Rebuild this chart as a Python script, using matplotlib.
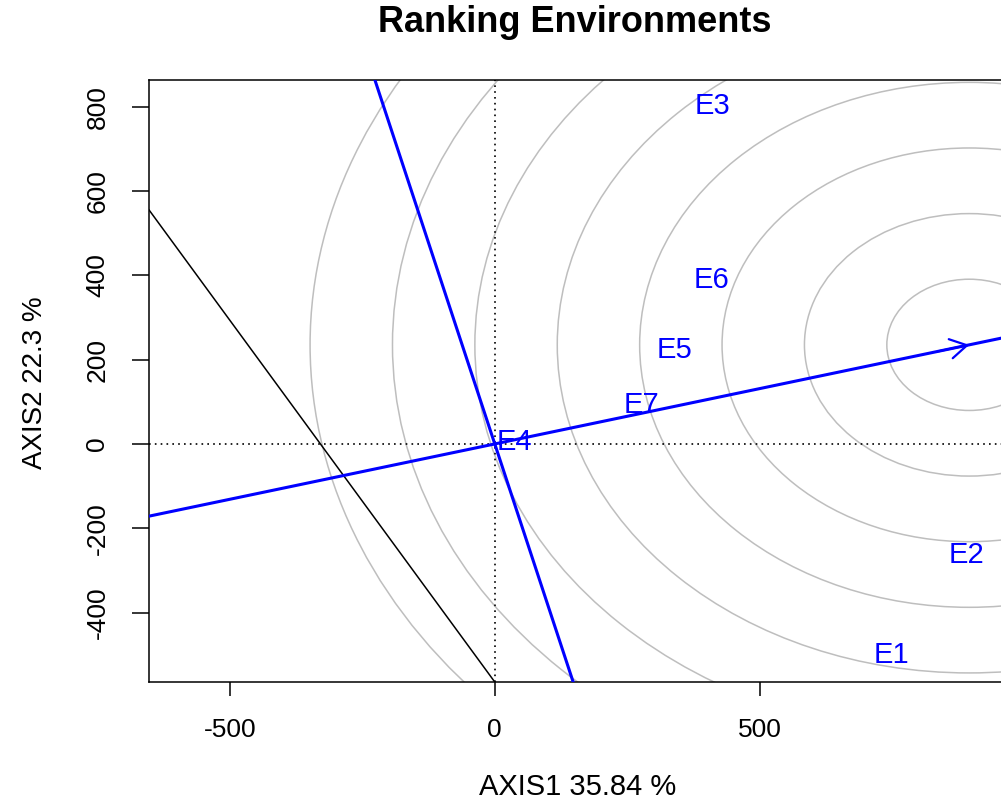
import matplotlib
matplotlib.use("Agg")
import matplotlib.pyplot as plt
import matplotlib.patches as mpatches
import numpy as np

# environment labels and their biplot coordinates
env_names = ["E1", "E2", "E3", "E4", "E5", "E6", "E7"]
env_x = [749, 891, 411, 37, 339, 410, 278]
env_y = [-501, -263, 802, 5, 223, 389, 92]

# average environment coordinate (centre of the rings, arrow tip)
aec_x, aec_y = 896, 235
ring_step = 155.6
n_rings = 8

# extra black reference line (two points it passes through)
black_x = [-653, 0]
black_y = [555, -564.5]

x_ticks = [-500, 0, 500]
y_ticks = [-400, -200, 0, 200, 400, 600, 800]

plt.rcParams['font.family'] = ['Liberation Sans', 'DejaVu Sans']
plt.rcParams['axes.unicode_minus'] = False

W, H = 1001, 800
fig = plt.figure(figsize=(W / 100, H / 100), dpi=100)
ax = fig.add_axes([149 / W, 1 - 682 / H, 852 / W, (682 - 80) / H])
ax.set_xlim(-653, 956)
ax.set_ylim(-564.5, 863)

# concentric rings around the AEC point
for k in range(1, n_rings + 1):
    ax.add_patch(mpatches.Circle((aec_x, aec_y), ring_step * k, fill=False,
                                 edgecolor="#bebebe", linewidth=1.1, zorder=1))

# dotted axes through origin
ax.axhline(0, color="black", linestyle=(0, (1, 2.5)), linewidth=1.2, zorder=2)
ax.axvline(0, color="black", linestyle=(0, (1, 2.5)), linewidth=1.2, zorder=2)

# AEC abscissa and ordinate
ax.axline((0, 0), (aec_x, aec_y), color="blue", linewidth=2.2, zorder=3)
ax.axline((0, 0), slope=-aec_x / aec_y, color="blue", linewidth=2.2, zorder=3)

# black line
ax.axline((black_x[0], black_y[0]), (black_x[1], black_y[1]), color="black",
          linewidth=1.1, zorder=2)

# arrow head at the AEC point
d = np.array([aec_x, aec_y]) / np.hypot(aec_x, aec_y)
arr = mpatches.FancyArrowPatch((aec_x - 60 * d[0], aec_y - 60 * d[1]), (aec_x, aec_y),
                               arrowstyle="->,head_length=0.6,head_width=0.35",
                               mutation_scale=20, color="blue", linewidth=1.6,
                               shrinkA=0, shrinkB=0, zorder=4)
ax.add_patch(arr)

for name, x, y in zip(env_names, env_x, env_y):
    ax.text(x, y, name, color="blue", fontsize=21, ha="center", va="center", zorder=5)

ax.spines['right'].set_visible(False)
for s in ['left', 'bottom', 'top']:
    ax.spines[s].set_linewidth(1.1)
    ax.spines[s].set_color("black")

ax.set_xticks(x_ticks)
ax.set_xticklabels([str(v) for v in x_ticks])
ax.set_yticks(y_ticks)
ax.set_yticklabels([str(v) for v in y_ticks], rotation=90, va="center")
ax.tick_params(axis='x', length=10, width=1.1, pad=16, labelsize=19)
ax.tick_params(axis='y', length=12.5, width=1.1, pad=16, labelsize=19)

fig.text(575 / W, 1 - 22 / H, "Ranking Environments", fontsize=26, fontweight="bold",
         ha="center", va="center")
fig.text(578 / W, 1 - 787 / H, "AXIS1 35.84 %", fontsize=21, ha="center", va="center")
fig.text(35 / W, 1 - 383 / H, "AXIS2 22.3 %", fontsize=20, ha="center", va="center",
         rotation=90)

fig.savefig("out.png", dpi=100)
